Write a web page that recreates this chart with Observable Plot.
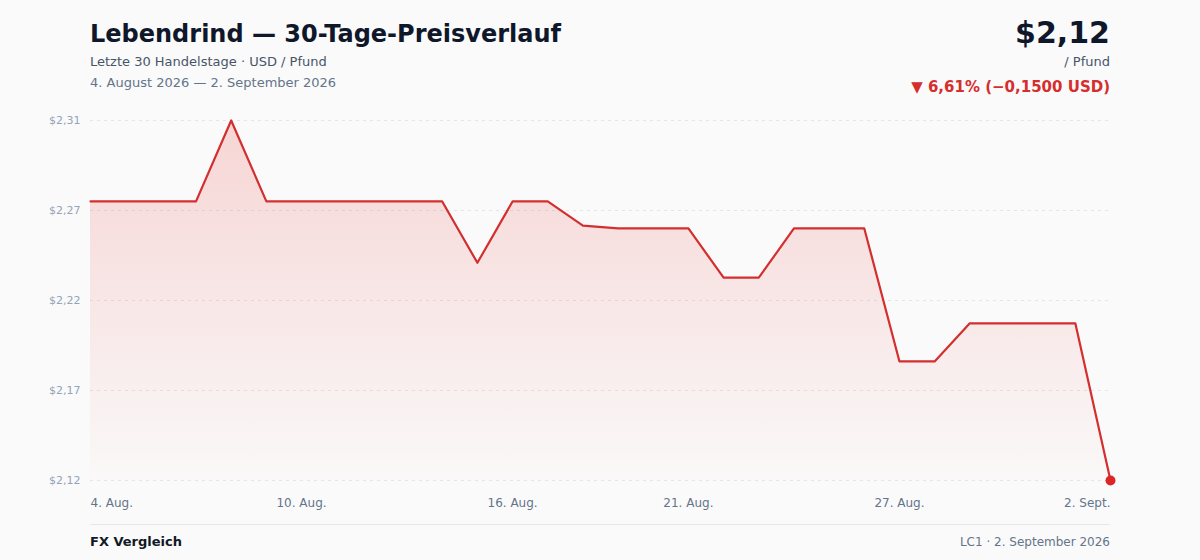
<!DOCTYPE html>
<html><head><meta charset="utf-8">
<script src="https://cdn.jsdelivr.net/npm/d3@7"></script>
<script src="https://cdn.jsdelivr.net/npm/@observablehq/plot@0.6"></script>
<style>
html,body{margin:0;padding:0;background:#fafafa;}
#wrap{position:relative;width:1200px;height:560px;font-family:"DejaVu Sans",sans-serif;overflow:hidden;}
.t{position:absolute;line-height:1;white-space:nowrap;}
</style></head><body>
<div id="wrap">
  <div class="t" style="left:90px;top:21.7px;font-size:24px;font-weight:bold;color:#0f172a;">Lebendrind — 30-Tage-Preisverlauf</div>
  <div class="t" style="left:90px;top:55px;font-size:13px;color:#475569;">Letzte 30 Handelstage · USD / Pfund</div>
  <div class="t" style="left:90px;top:76.3px;font-size:13px;color:#64748b;">4. August 2026 — 2. September 2026</div>
  <div class="t" style="right:90px;top:17.6px;font-size:30px;font-weight:bold;color:#0f172a;">$2,12</div>
  <div class="t" style="right:90px;top:54.7px;font-size:13px;color:#475569;">/ Pfund</div>
  <div class="t" style="right:90px;top:80px;font-size:15px;font-weight:bold;color:#d62d2d;">▼ 6,61% (−0,1500 USD)</div>
  <div id="chart" style="position:absolute;left:0;top:100px;"></div>
  <div style="position:absolute;left:90px;top:523.5px;width:1020px;height:1px;background:#e5e7eb;"></div>
  <div class="t" style="left:90px;top:534.7px;font-size:13px;font-weight:bold;color:#111827;">FX Vergleich</div>
  <div class="t" style="right:90px;top:535.8px;font-size:12px;color:#64748b;">LC1 · 2. September 2026</div>
</div>
<script>
const dates = [
  "2026-08-04","2026-08-05","2026-08-06","2026-08-07","2026-08-08","2026-08-09",
  "2026-08-10","2026-08-11","2026-08-12","2026-08-13","2026-08-14","2026-08-15",
  "2026-08-16","2026-08-17","2026-08-18","2026-08-19","2026-08-20","2026-08-21",
  "2026-08-22","2026-08-23","2026-08-24","2026-08-25","2026-08-26","2026-08-27",
  "2026-08-28","2026-08-29","2026-08-30","2026-08-31","2026-09-01","2026-09-02"
];
const prices = [
  2.27, 2.27, 2.27, 2.27, 2.3135, 2.27,
  2.27, 2.27, 2.27, 2.27, 2.27, 2.237,
  2.27, 2.27, 2.257, 2.2555, 2.2555, 2.2555,
  2.229, 2.229, 2.2555, 2.2555, 2.2555, 2.184,
  2.184, 2.2045, 2.2045, 2.2045, 2.2045, 2.12
];
const xTickDates = ["2026-08-04","2026-08-10","2026-08-16","2026-08-21","2026-08-27","2026-09-02"];
const xTickLabels = ["4. Aug.","10. Aug.","16. Aug.","21. Aug.","27. Aug.","2. Sept."];
const yTickLabels = ["$2,12","$2,17","$2,22","$2,27","$2,31"];

const lineColor = "#d32f2f";
const data = dates.map((d, i) => ({date: new Date(d + "T00:00:00Z"), price: prices[i]}));
const yDomain = d3.extent(prices);
const yTicks = yTickLabels.map((label, i) => ({
  value: yDomain[0] + i * (yDomain[1] - yDomain[0]) / (yTickLabels.length - 1),
  label
}));
const xTicks = xTickDates.map((d, i) => ({date: new Date(d + "T00:00:00Z"), label: xTickLabels[i]}));
const x0 = data[0].date;
const last = data[data.length - 1];

const svg = Plot.plot({
  width: 1200,
  height: 420,
  marginTop: 20,
  marginBottom: 40,
  marginLeft: 90,
  marginRight: 90,
  style: {background: "transparent", fontFamily: "DejaVu Sans, sans-serif", overflow: "visible"},
  x: {type: "utc", domain: [data[0].date, last.date], axis: null},
  y: {domain: yDomain, axis: null},
  marks: [
    Plot.ruleY(yTicks, {y: "value", stroke: "#e2e5ea", strokeDasharray: "3,4", strokeWidth: 1}),
    Plot.areaY(data, {x: "date", y1: () => yDomain[0], y2: "price", fill: "url(#areaGrad)"}),
    Plot.lineY(data, {x: "date", y: "price", stroke: lineColor, strokeWidth: 2.2, strokeLinejoin: "round"}),
    Plot.dot([last], {x: "date", y: "price", r: 5, fill: "#dc2626"}),
    Plot.text(yTicks, {x: () => x0, y: "value", text: "label", textAnchor: "end", dx: -10, fontSize: 11, fill: "#94a3b8"}),
    Plot.text(xTicks.slice(0, 1), {x: "date", y: () => yDomain[0], text: "label", textAnchor: "start", dy: 23, fontSize: 12, fill: "#64748b"}),
    Plot.text(xTicks.slice(1, -1), {x: "date", y: () => yDomain[0], text: "label", textAnchor: "middle", dy: 23, fontSize: 12, fill: "#64748b"}),
    Plot.text(xTicks.slice(-1), {x: "date", y: () => yDomain[0], text: "label", textAnchor: "end", dy: 23, fontSize: 12, fill: "#64748b"})
  ]
});

const ns = "http://www.w3.org/2000/svg";
const defs = document.createElementNS(ns, "defs");
const grad = document.createElementNS(ns, "linearGradient");
grad.setAttribute("id", "areaGrad");
grad.setAttribute("gradientUnits", "userSpaceOnUse");
grad.setAttribute("x1", "0"); grad.setAttribute("x2", "0");
grad.setAttribute("y1", "20"); grad.setAttribute("y2", "400");
[[0, 0.19], [1, 0.0]].forEach(([o, a]) => {
  const s = document.createElementNS(ns, "stop");
  s.setAttribute("offset", o);
  s.setAttribute("stop-color", "#e53935");
  s.setAttribute("stop-opacity", a);
  grad.appendChild(s);
});
defs.appendChild(grad);
svg.insertBefore(defs, svg.firstChild);
document.getElementById("chart").appendChild(svg);
</script>
</body></html>
